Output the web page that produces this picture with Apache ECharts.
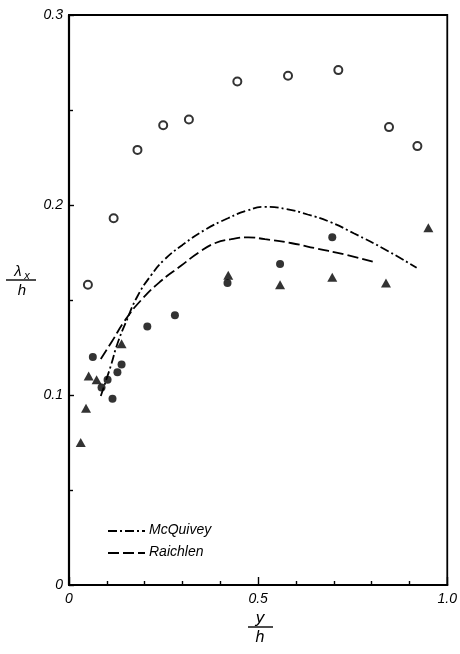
<!DOCTYPE html>
<html><head><meta charset="utf-8">
<script src="https://cdn.jsdelivr.net/npm/echarts@6/dist/echarts.min.js"></script>
<style>html,body{margin:0;padding:0;background:#fff}#c{width:460px;height:654px}</style>
</head><body><div id="c"></div>
<script>
// Open circles (x = y/h, y = lambda_x/h)
const openX = [0.050, 0.118, 0.181, 0.249, 0.317, 0.445, 0.579, 0.712, 0.846, 0.921];
const openY = [0.158, 0.193, 0.229, 0.242, 0.245, 0.265, 0.268, 0.271, 0.241, 0.231];
// Filled circles
const dotX = [0.063, 0.086, 0.102, 0.115, 0.128, 0.139, 0.207, 0.280, 0.419, 0.558, 0.696];
const dotY = [0.120, 0.104, 0.108, 0.098, 0.112, 0.116, 0.136, 0.142, 0.159, 0.169, 0.183];
// Filled triangles
const triX = [0.031, 0.045, 0.052, 0.073, 0.139, 0.421, 0.558, 0.696, 0.838, 0.950];
const triY = [0.075, 0.093, 0.110, 0.108, 0.127, 0.163, 0.158, 0.162, 0.159, 0.188];
// McQuivey curve
const mcqX = [0.084, 0.110, 0.128, 0.152, 0.181, 0.217, 0.251, 0.300, 0.360, 0.420, 0.470, 0.518, 0.571, 0.631, 0.691, 0.754, 0.832, 0.919];
const mcqY = [0.0995, 0.115, 0.127, 0.139, 0.152, 0.163, 0.171, 0.179, 0.187, 0.193, 0.197, 0.199, 0.198, 0.195, 0.191, 0.185, 0.177, 0.167];
// Raichlen curve
const raiX = [0.084, 0.113, 0.147, 0.191, 0.243, 0.296, 0.343, 0.387, 0.429, 0.474, 0.518, 0.586, 0.657, 0.728, 0.806];
const raiY = [0.119, 0.128, 0.139, 0.150, 0.160, 0.168, 0.175, 0.180, 0.182, 0.183, 0.182, 0.180, 0.177, 0.174, 0.170];
// Tick labels
const xTickLabels = {0: '0', 0.5: '0.5', 1: '1.0'};
const yTickLabels = {0: '0', 0.1: '0.1', 0.2: '0.2', 0.3: '0.3'};

const zip = (a, b) => a.map((v, i) => [v, b[i]]);
const FONT = 'Liberation Sans';
const labStyle = {color: '#000', fontStyle: 'italic', fontFamily: FONT, fontSize: 14};

const chart = echarts.init(document.getElementById('c'), null, {renderer: 'canvas'});
chart.setOption({
  animation: false,
  backgroundColor: '#fff',
  grid: {left: 69, right: 8, top: 15, bottom: 69, show: true, borderColor: '#000', borderWidth: 1.8, backgroundColor: 'transparent'},
  xAxis: {
    type: 'value', min: 0, max: 1, interval: 0.5,
    axisLine: {show: true, lineStyle: {color: '#000', width: 2.2}},
    axisTick: {show: true, inside: true, length: 8, lineStyle: {color: '#000', width: 1.4}},
    minorTick: {show: true, splitNumber: 5, length: 4, lineStyle: {color: '#000', width: 1.4}},
    splitLine: {show: false}, minorSplitLine: {show: false},
    axisLabel: Object.assign({margin: 7, formatter: v => xTickLabels[v] !== undefined ? xTickLabels[v] : ''}, labStyle)
  },
  yAxis: {
    type: 'value', min: 0, max: 0.3, interval: 0.1,
    axisLine: {show: true, lineStyle: {color: '#000', width: 2.2}},
    axisTick: {show: true, inside: true, length: 5, lineStyle: {color: '#000', width: 1.4}},
    minorTick: {show: true, splitNumber: 2, length: 4, lineStyle: {color: '#000', width: 1.4}},
    splitLine: {show: false}, minorSplitLine: {show: false},
    axisLabel: Object.assign({margin: 6, formatter: v => {
      const k = Math.round(v * 10) / 10; return yTickLabels[k] !== undefined ? yTickLabels[k] : '';
    }}, labStyle)
  },
  series: [
    {type: 'line', name: 'McQuivey', data: zip(mcqX, mcqY), smooth: 0.5, showSymbol: false, symbol: 'none',
      lineStyle: {color: '#000', width: 1.8, type: [9, 3, 2, 3]}, z: 2},
    {type: 'line', name: 'Raichlen', data: zip(raiX, raiY), smooth: 0.5, showSymbol: false, symbol: 'none',
      lineStyle: {color: '#000', width: 1.8, type: [11, 4]}, z: 2},
    {type: 'scatter', data: zip(openX, openY), symbol: 'circle', symbolSize: 8,
      itemStyle: {color: '#fff', borderColor: '#000', borderWidth: 2}, z: 3},
    {type: 'scatter', data: zip(dotX, dotY), symbol: 'circle', symbolSize: 8,
      itemStyle: {color: '#000'}, z: 3},
    {type: 'scatter', data: zip(triX, triY), symbol: 'triangle', symbolSize: [10, 9],
      itemStyle: {color: '#000'}, z: 3}
  ],
  graphic: [
    // legend
    {type: 'line', shape: {x1: 108, y1: 531, x2: 145, y2: 531}, style: {stroke: '#000', lineWidth: 1.8, lineDash: [9, 3, 2, 3]}},
    {type: 'text', left: 149, top: 523, style: {text: 'McQuivey', fill: '#000', font: 'italic 14px ' + FONT}},
    {type: 'line', shape: {x1: 108, y1: 553, x2: 145, y2: 553}, style: {stroke: '#000', lineWidth: 1.8, lineDash: [11, 4]}},
    {type: 'text', left: 149, top: 545, style: {text: 'Raichlen', fill: '#000', font: 'italic 14px ' + FONT}},
    // x axis title y/h
    {type: 'text', x: 260, y: 618, style: {text: 'y', fill: '#000', font: 'italic 17px ' + FONT, align: 'center', verticalAlign: 'middle'}},
    {type: 'line', shape: {x1: 248, y1: 627, x2: 273, y2: 627}, style: {stroke: '#000', lineWidth: 1.4}},
    {type: 'text', x: 260, y: 638, style: {text: 'h', fill: '#000', font: 'italic 16px ' + FONT, align: 'center', verticalAlign: 'middle'}},
    // y axis title lambda_x/h
    {type: 'text', x: 18, y: 272, style: {text: 'λ', fill: '#000', font: 'italic 15px ' + FONT, align: 'center', verticalAlign: 'middle'}},
    {type: 'text', x: 27, y: 276, style: {text: 'x', fill: '#000', font: 'italic 11px ' + FONT, align: 'center', verticalAlign: 'middle'}},
    {type: 'line', shape: {x1: 6, y1: 280, x2: 36, y2: 280}, style: {stroke: '#000', lineWidth: 1.4}},
    {type: 'text', x: 22, y: 291, style: {text: 'h', fill: '#000', font: 'italic 15px ' + FONT, align: 'center', verticalAlign: 'middle'}}
  ]
});
</script></body></html>
